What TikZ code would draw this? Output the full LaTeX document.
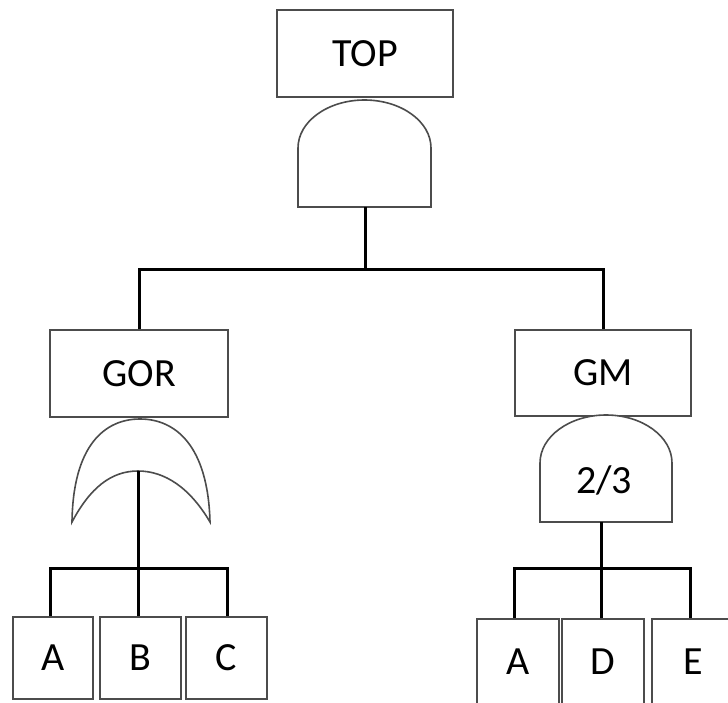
\documentclass[tikz,border=0pt]{standalone}
\usepackage{fontspec}
\setmainfont{Carlito}
\begin{document}
\begin{tikzpicture}[x=1pt,y=-1pt,
  box/.style={draw=black!70,line width=1.6pt,fill=white,inner sep=0pt},
  gate/.style={draw=black!70,line width=1.6pt,fill=white},
  wire/.style={draw=black,line width=3pt},
  lbl/.style={font=\fontsize{40}{44}\selectfont}]
\useasboundingbox (0,0) rectangle (728,702);
% boxes
\node[box,minimum width=176pt,minimum height=87pt] (top) at (365,53.5) {};
\node[lbl] at (top) {TOP};
\node[box,minimum width=178pt,minimum height=87pt] (gor) at (139,373.5) {};
\node[lbl] at (gor) {GOR};
\node[box,minimum width=176pt,minimum height=86pt] (gm) at (603,373) {};
\node[lbl] at (gm) {GM};
% basic event boxes
\node[box,minimum width=80pt,minimum height=82pt] (a1) at (53,658) {};
\node[lbl] at (a1) {A};
\node[box,minimum width=81pt,minimum height=82pt] (b) at (140.5,658) {};
\node[lbl] at (b) {B};
\node[box,minimum width=81pt,minimum height=82pt] (c) at (226.5,658) {};
\node[lbl] at (c) {C};
\node[box,minimum width=82pt,minimum height=86pt] (a2) at (518,662) {};
\node[lbl] at (a2) {A};
\node[box,minimum width=82pt,minimum height=86pt] (d) at (603,662) {};
\node[lbl] at (d) {D};
\node[box,minimum width=82pt,minimum height=86pt] (e) at (693,662) {};
\node[lbl] at (e) {E};
% AND gate under TOP
\draw[gate] (298,207) -- (298,148) arc[start angle=180,end angle=0,x radius=66.5pt,y radius=48pt] -- (431,207) -- cycle;
\coordinate (andout) at (365,207);
% OR gate under GOR
\draw[gate] (72,522) .. controls (73,445) and (105,419) .. (140,419)
   .. controls (175,419) and (208,445) .. (210,522)
   .. controls (190,488) and (165,471) .. (138,471)
   .. controls (111,471) and (90,488) .. (72,522) -- cycle;
\coordinate (orout) at (138,471);
% voting gate under GM
\draw[gate] (540,522) -- (540,463) arc[start angle=180,end angle=0,x radius=66pt,y radius=48pt] -- (672,522) -- cycle;
\node[lbl] at (604,480) {2/3};
\coordinate (vout) at (601,522);
% junction coordinates
\coordinate (j0) at (365,270);
\coordinate (j1) at (138,568);
\coordinate (j2) at (601,568);
% connectors
\draw[wire] (andout) -- (j0);
\draw[wire] (gor.north) -- ++(0,-60) -| (gm.north);
\draw[wire] (orout) -- (j1);
\draw[wire] (a1.north -| 50,617) |- (j1) -| (c.north -| 227,617);
\draw[wire] (j1) -- (b.north -| j1);
\draw[wire] (vout) -- (j2);
\draw[wire] (a2.north -| 514,619) |- (j2) -| (e.north -| 690,619);
\draw[wire] (j2) -- (d.north -| j2);
\end{tikzpicture}
\end{document}
